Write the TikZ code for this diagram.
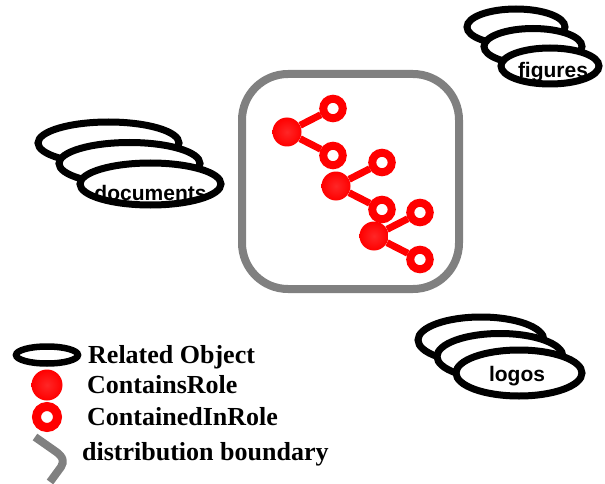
\documentclass[tikz,border=0pt]{standalone}
\usepackage{fontspec}
\setmainfont{Liberation Serif}
\newfontfamily\objfont{Liberation Sans}
\usetikzlibrary{positioning,calc,shapes.geometric}

\begin{document}
\begin{tikzpicture}[x=1pt,y=-1pt,
	relobj/.style={ellipse,draw,line width=7pt,fill=white,inner sep=0pt},
	objname/.style={font=\objfont\bfseries\fontsize{21}{24}\selectfont,anchor=base,inner sep=0pt},
	boundary/.style={draw=gray,line width=8pt,rounded corners=46pt,minimum width=217pt,minimum height=215pt},
	container/.style={circle,inner sep=0pt,minimum size=29pt,inner color=red!85!white,outer color=red},
	contained/.style={circle,draw=red,fill=white,line width=8pt,inner sep=0pt,minimum size=19.5pt},
	link/.style={red,line width=7pt},
	keytext/.style={font=\bfseries\fontsize{26}{30}\selectfont,anchor=base west,inner sep=0pt}]
	\useasboundingbox (0,0) rectangle (605,484);

	% related objects
	\node[relobj,minimum width=141pt,minimum height=42pt] (doc1) at (108.5,143) {};
	\node[relobj,minimum width=141pt,minimum height=42pt] (doc2) at ([shift={(21,20.5)}]doc1) {};
	\node[relobj,minimum width=141pt,minimum height=42pt] (doc3) at ([shift={(21,20.5)}]doc2) {};
	\node[objname] (doclabel) at ([yshift=-16pt]doc3.center) {documents};

	\node[relobj,minimum width=98pt,minimum height=36pt] (fig1) at (516,27) {};
	\node[relobj,minimum width=98pt,minimum height=36pt] (fig2) at ([shift={(17,19.5)}]fig1) {};
	\node[relobj,minimum width=98pt,minimum height=36pt] (fig3) at ([shift={(17,19.5)}]fig2) {};
	\node[objname] (figlabel) at ([xshift=3pt,yshift=-12pt]fig3.center) {figures};

	\node[relobj,minimum width=126pt,minimum height=46pt] (logo1) at (481,340) {};
	\node[relobj,minimum width=126pt,minimum height=46pt] (logo2) at ([shift={(19,16.5)}]logo1) {};
	\node[relobj,minimum width=126pt,minimum height=46pt] (logo3) at ([shift={(19,16.5)}]logo2) {};
	\node[objname] (logolabel) at ([xshift=-2pt,yshift=-8pt]logo3.center) {logos};

	% distribution boundary
	\node[boundary] (dist) at (350.5,181.5) {};

	% roles
	\node[container] (c1) at (287,132) {};
	\node[contained] (o1a) at ([shift={(46,-23.5)}]c1) {};
	\node[contained] (o1b) at ([shift={(46,23.5)}]c1) {};
	\node[container] (c2) at ([shift={(49,54)}]c1) {};
	\node[contained] (o2a) at ([shift={(46,-23.5)}]c2) {};
	\node[contained] (o2b) at ([shift={(46,23.5)}]c2) {};
	\node[container] (c3) at ([shift={(38,50)}]c2) {};
	\node[contained] (o3a) at ([shift={(46,-23.5)}]c3) {};
	\node[contained] (o3b) at ([shift={(46,23.5)}]c3) {};
	\draw[link] (c1) -- (o1a) (c1) -- (o1b);
	\draw[link] (c2) -- (o2a) (c2) -- (o2b);
	\draw[link] (c3) -- (o3a) (c3) -- (o3b);

	% legend
	\node[relobj,minimum width=62pt,minimum height=17pt,line width=6.5pt] (keyobj) at (47,355) {};
	\node[keytext] (keyobjtext) at (88,363) {Related Object};
	\node[container,minimum size=31pt] (keyfull) at (47,385) {};
	\node[keytext] (keyfulltext) at (87,393) {ContainsRole};
	\node[contained,minimum size=21pt,line width=9pt] (keyring) at (47,417) {};
	\node[keytext] (keyringtext) at (87,425) {ContainedInRole};
	\coordinate (keybnda) at (35,437);
	\coordinate (keybndb) at (50,482);
	\draw[gray,line width=8pt] (keybnda) -- (55,451) .. controls (64,457) and (64,462) .. (61,467) -- (keybndb);
	\node[keytext] (keybndtext) at (82,460) {distribution boundary};
\end{tikzpicture}
\end{document}
